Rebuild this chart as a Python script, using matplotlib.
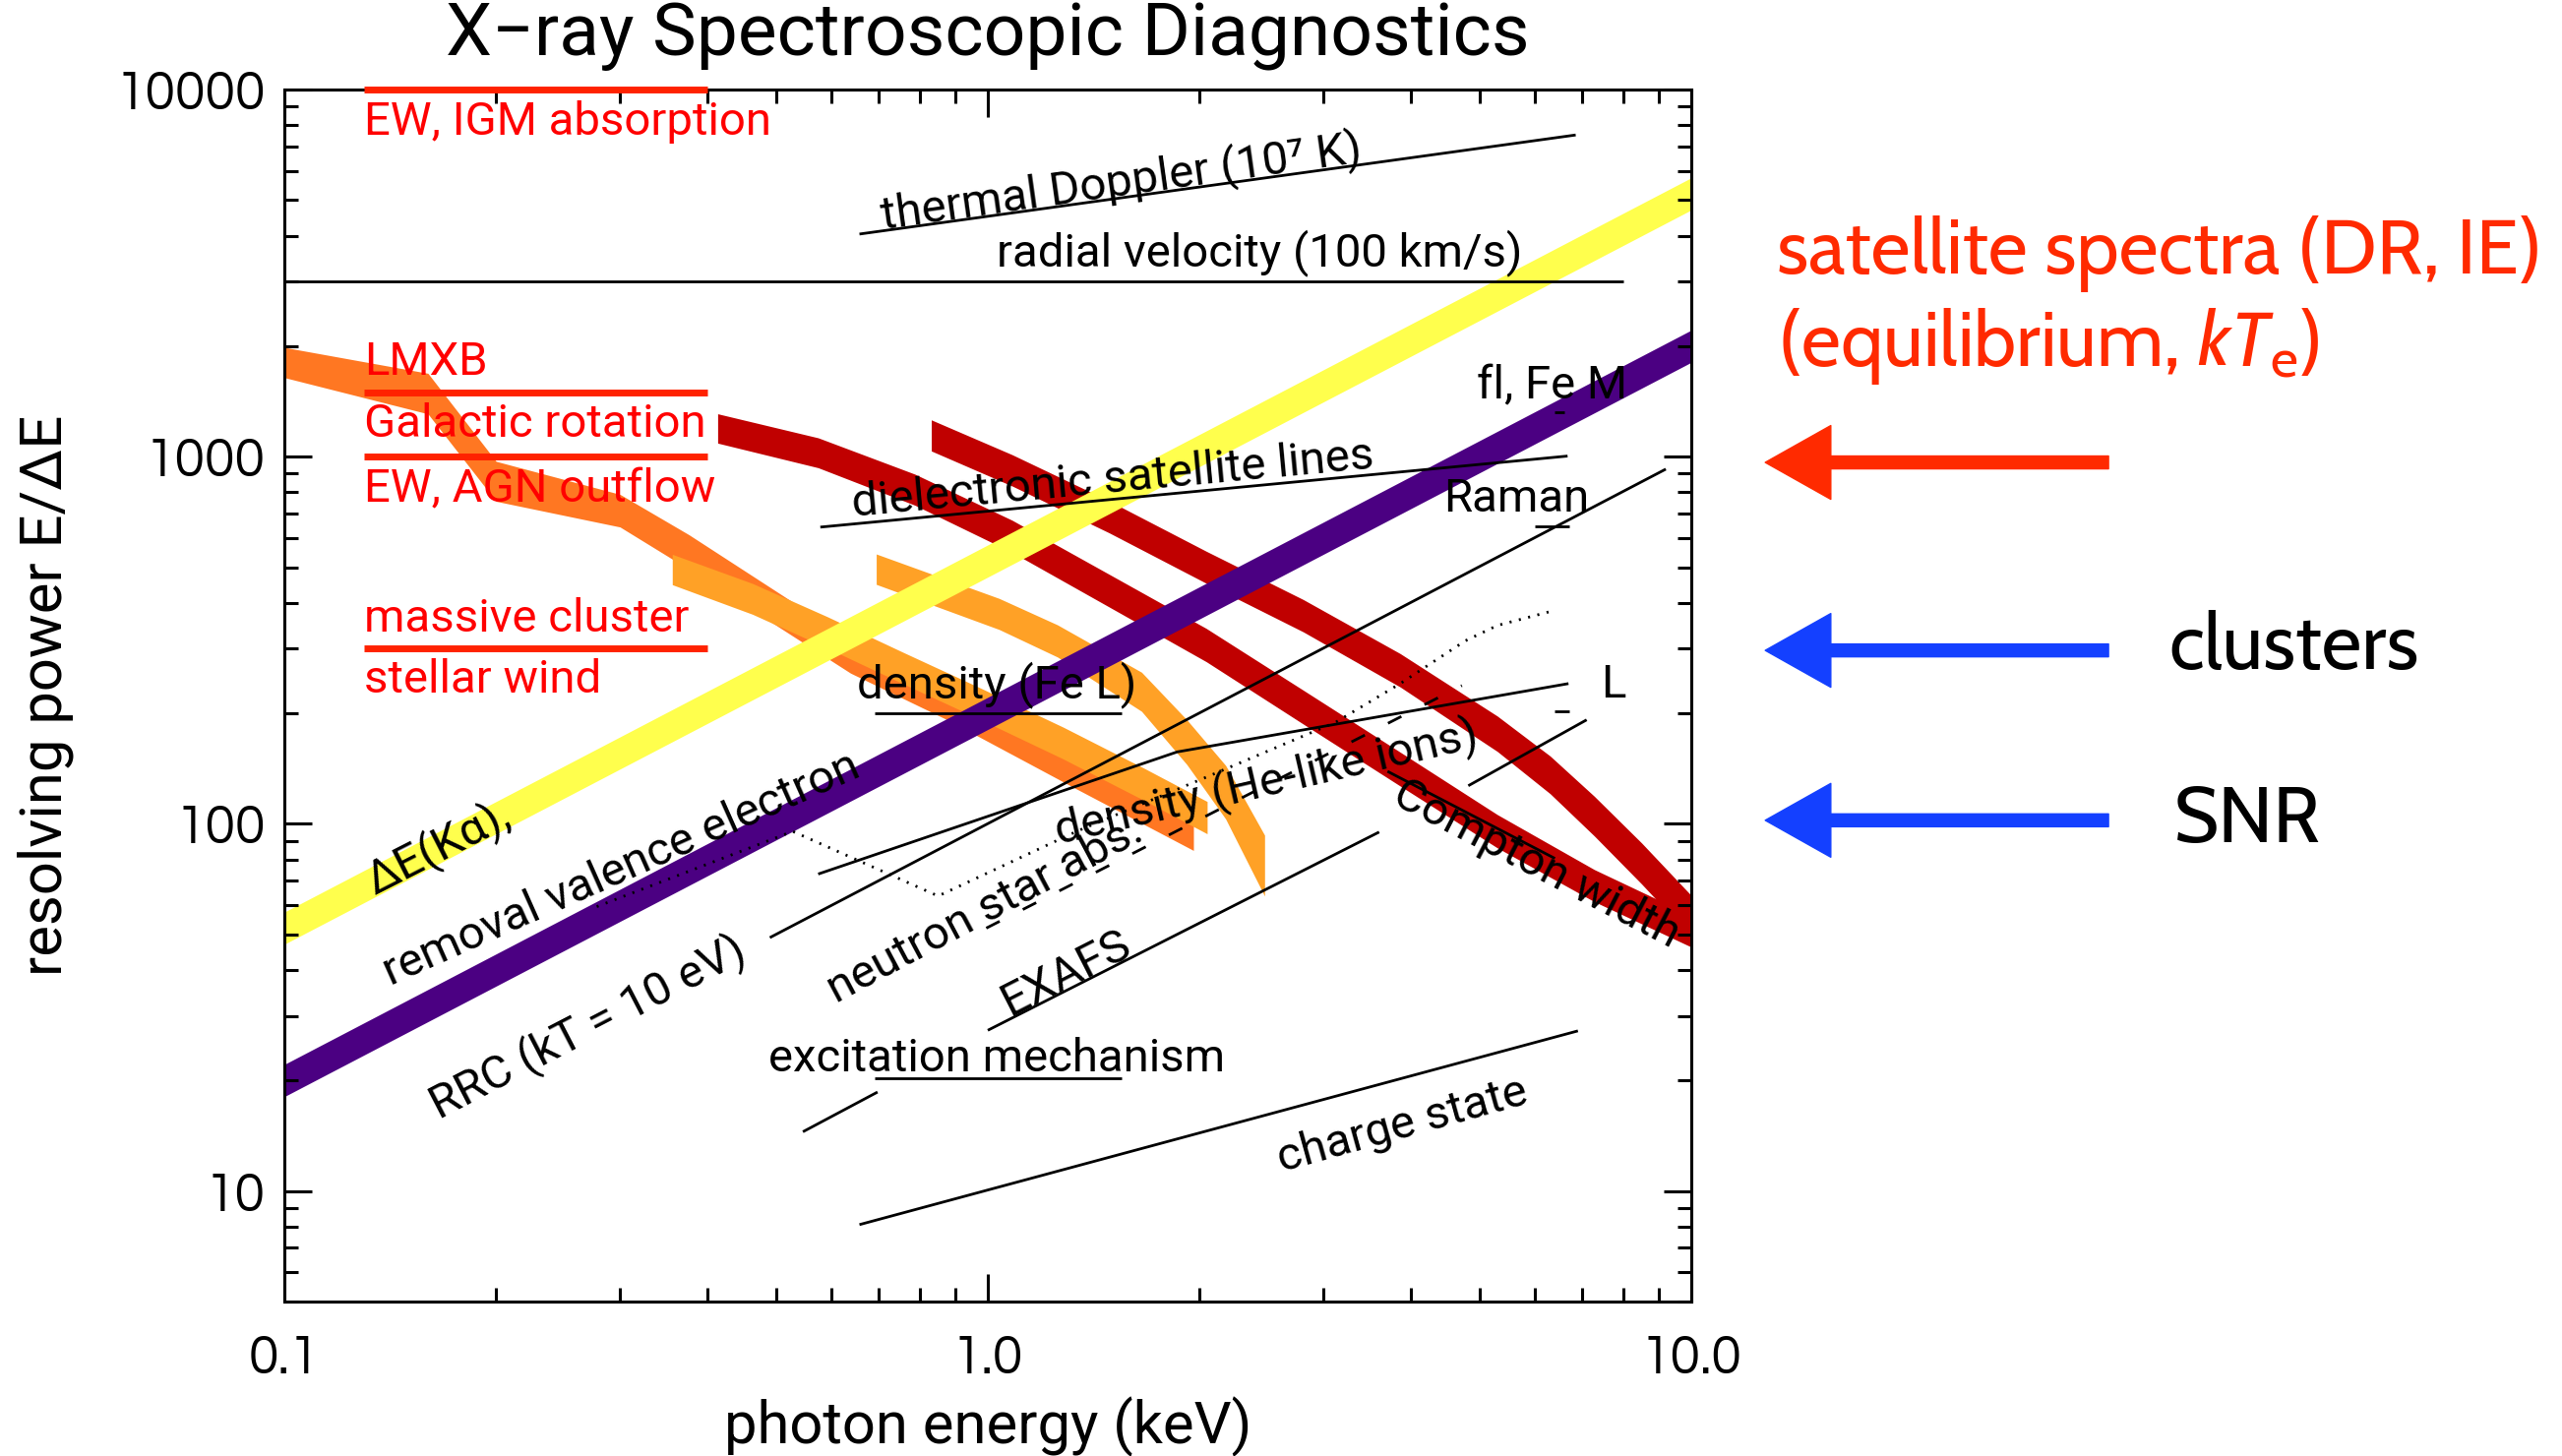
import numpy as np
import matplotlib
matplotlib.use("Agg")
import matplotlib.pyplot as plt
from matplotlib.ticker import FixedLocator, NullFormatter, LogLocator

plt.rcParams['lines.scale_dashes'] = False
plt.rcParams['mathtext.fontset'] = 'custom'
plt.rcParams['mathtext.rm'] = 'Cabin'
plt.rcParams['mathtext.it'] = 'Cabin:italic'

HERSHEY = ['Roboto', 'Lato', 'DejaVu Sans']
TICKF = ['Questrial', 'Didact Gothic', 'Montserrat', 'DejaVu Sans']
GILL = ['Gill Sans', 'Gill Sans MT', 'Cabin', 'Lato', 'DejaVu Sans']

# ---------------- data ----------------
xticks = [0.1, 1.0, 10.0]
xticklabels = ['0.1', '1.0', '10.0']
yticks = [10, 100, 1000, 10000]
yticklabels = ['10', '100', '1000', '10000']

# thick bands (photon energy keV, resolving power)
yellow_E = [0.1, 10.0]
yellow_R = [52, 5200]
purple_E = [0.1, 10.0]
purple_R = [20, 2000]
redA_E = [0.413, 0.574, 0.788, 1.083, 1.487, 2.044, 2.808, 3.857, 5.30, 7.28, 10.0]
redA_R = [1194, 1025, 813, 607, 432, 307, 208, 141, 95.5, 67.9, 51]
redB_E = [0.831, 1.083, 1.487, 2.044, 2.808, 3.857, 5.30, 6.3, 7.28, 8.5, 10.0]
redB_R = [1143, 918, 686, 500, 369, 262, 176, 136, 105, 78, 56]
dorange_E = [0.1, 0.16, 0.2, 0.3, 0.376, 0.638, 0.876, 1.339, 1.96]
dorange_R = [1806, 1486, 857, 713, 550, 286, 213, 138, 94]
lorange1_E = [0.356, 0.463, 0.592, 0.757, 0.968, 1.28, 1.67, 2.05]
lorange1_R = [493, 410, 332, 266, 214, 166, 128, 104]
lorange2_E = [0.694, 1.038, 1.256, 1.654, 1.918, 2.178, 2.474]
lorange2_R = [494, 373, 315, 229, 167, 122, 77]

# thin black lines
radial_E, radial_R = [0.1, 8.0], [3000, 3000]
thermal_E, thermal_R = [0.657, 6.85], [4040, 7520]
dielec_E, dielec_R = [0.578, 6.67], [643, 1004]
rrc_E, rrc_R = [0.49, 9.2], [49, 925]
lline_E, lline_R = [0.574, 1.858, 6.69], [73, 157, 241]
exafs1_E, exafs1_R = [0.546, 0.697], [14.5, 18.6]
exafs2_E, exafs2_R = [1.0, 3.6], [27.4, 95]
charge_E, charge_R = [0.657, 6.9], [8.1, 27.3]
feL_E, feL_R = [0.69, 1.55], [200, 200]
excit_E, excit_R = [0.69, 1.55], [20.3, 20.3]
compseg_E, compseg_R = [3.7, 6.4], [139, 80.5]
seg2_E, seg2_R = [4.82, 7.1], [127, 192]
dotted_E = [0.278, 0.528, 0.85, 1.339, 2.044, 3.12, 3.857, 4.77, 5.30, 6.28]
dotted_R = [59.5, 95.4, 63.6, 95.5, 134, 189, 241, 315, 347, 378]
nstar_E, nstar_R = [0.995, 4.72], [52, 238]
mark_Elo = [6.4, 6.0, 6.4]
mark_Ehi = [6.6, 6.7, 6.7]
mark_R = [1320, 648, 202]

# red reference lines / labels
ref_E = [0.13, 0.40]
ref_R = [10000, 1500, 1000, 300]
red_labels = ['EW, IGM absorption', 'LMXB', 'Galactic rotation',
              'EW, AGN outflow', 'massive cluster', 'stellar wind']
red_label_R = [8150, 1814, 1229, 817, 361, 247]

# black labels: text, E, R, rotation
black_labels = [
    ('thermal Doppler (10\u2077 K)', 1.546, 5583, 8.0),
    ('radial velocity (100 km/s)', 2.437, 3596, 0),
    ('dielectronic satellite lines', 1.505, 869, 5.3),
    ('fl, Fe M', 6.35, 1555, 0),
    ('Raman', 5.64, 768, 0),
    ('L', 7.74, 239, 0),
    ('density (Fe L)', 1.03, 239, 0),
    ('\u0394E(K\u03b1),', 0.1654, 86, 27),
    ('removal valence electron', 0.301, 75.4, 24),
    ('RRC (kT = 10 eV)', 0.270, 28, 27.4),
    ('neutron star abs.', 0.992, 58.4, 28),
    ('EXAFS', 1.289, 39.2, 27),
    ('density (He-like ions)', 2.49, 129.7, 13),
    ('excitation mechanism', 1.03, 23.0, 0),
    ('charge state', 3.88, 15.1, 15.5),
    ('Compton width', 6.02, 77.8, -27.4),
]

# ---------------- figure ----------------
fig = plt.figure(figsize=(26.04, 14.80), dpi=100)
ax = fig.add_axes([0.11098, 0.10608, 0.54916, 0.83243])
ax.set_xscale('log')
ax.set_yscale('log')
ax.set_xlim(0.1, 10)
ax.set_ylim(5, 10000)

for s in ax.spines.values():
    s.set_linewidth(2.2)
    s.set_zorder(6)

ax.xaxis.set_major_locator(FixedLocator(xticks))
ax.yaxis.set_major_locator(FixedLocator(yticks))
ax.xaxis.set_minor_locator(LogLocator(base=10, subs=np.arange(2, 10)))
ax.yaxis.set_minor_locator(LogLocator(base=10, subs=np.arange(2, 10)))
ax.xaxis.set_minor_formatter(NullFormatter())
ax.yaxis.set_minor_formatter(NullFormatter())
ax.set_xticklabels(xticklabels, family=TICKF, fontsize=40)
ax.set_yticklabels(yticklabels, family=TICKF, fontsize=40)
ax.tick_params(which='both', direction='in', top=True, right=True, width=2.2)
ax.tick_params(which='major', length=20)
ax.tick_params(which='minor', length=10)
ax.tick_params(axis='x', which='major', pad=24)
ax.tick_params(axis='y', which='major', pad=14)

ax.set_xlabel('photon energy (keV)', family=HERSHEY, fontsize=43)
ax.xaxis.set_label_coords(0.5, -0.103)
ax.xaxis.label.set_va('center')
ax.set_ylabel('resolving power E/\u0394E', family=HERSHEY, fontsize=43)
ax.yaxis.set_label_coords(-0.17, 0.5)
ax.yaxis.label.set_va('center')

fig.text(0.3856, 0.975, 'X\u2212ray Spectroscopic Diagnostics', family=HERSHEY,
         fontsize=54, ha='center', va='center')


def band(E, R, width_px, color, z):
    E = np.asarray(E, float)
    R = np.asarray(R, float)
    pts = ax.transData.transform(np.column_stack([E, R]))
    slope = np.gradient(pts[:, 1], pts[:, 0])
    h = 0.5 * width_px * np.sqrt(1 + slope ** 2)
    inv = ax.transData.inverted()
    up = inv.transform(np.column_stack([pts[:, 0], pts[:, 1] + h]))[:, 1]
    lo = inv.transform(np.column_stack([pts[:, 0], pts[:, 1] - h]))[:, 1]
    ax.fill_between(E, lo, up, color=color, lw=0, zorder=z)


band(dorange_E, dorange_R, 30, '#FF7722', 1)
band(lorange1_E, lorange1_R, 29, '#FFA126', 1.1)
band(lorange2_E, lorange2_R, 29, '#FFA126', 1.1)
band(redA_E, redA_R, 29, '#C00000', 1.2)
band(redB_E, redB_R, 29, '#C00000', 1.2)
band(yellow_E, yellow_R, 29, '#FFFF4D', 1.3)
band(purple_E, purple_R, 29, '#4B0082', 1.4)

lk = dict(color='black', lw=2.0, zorder=3, solid_capstyle='butt')
for E, R in [(radial_E, radial_R), (thermal_E, thermal_R), (dielec_E, dielec_R),
             (rrc_E, rrc_R), (lline_E, lline_R), (exafs1_E, exafs1_R),
             (exafs2_E, exafs2_R), (charge_E, charge_R), (feL_E, feL_R),
             (excit_E, excit_R), (compseg_E, compseg_R), (seg2_E, seg2_R)]:
    ax.plot(E, R, **lk)
ax.plot(dotted_E, dotted_R, color='black', lw=2.0, ls=(0, (1.5, 5.5)), zorder=3)
ax.plot(nstar_E, nstar_R, color='black', lw=2.0, ls=(0, (11, 19)), zorder=3)
for lo_, hi_, r in zip(mark_Elo, mark_Ehi, mark_R):
    ax.plot([lo_, hi_], [r, r], **lk)

for r in ref_R:
    ax.plot(ref_E, [r, r], color='#FF2200', lw=5, solid_capstyle='butt',
            zorder=7, clip_on=False)
for t, r in zip(red_labels, red_label_R):
    ax.text(0.13, r, t, color='#FF0000', family=HERSHEY, fontsize=34,
            ha='left', va='center', zorder=8)

for t, e, r, rot in black_labels:
    ax.text(e, r, t, color='black', family=HERSHEY, fontsize=34,
            ha='center', va='center', rotation=rot, rotation_mode='anchor', zorder=8)

# right-hand annotations
fig.text(0.6934, 0.826, 'satellite spectra (DR, IE)', color='#FF2A00', family=GILL,
         fontsize=56, ha='left', va='center')
fig.text(0.6934, 0.762, r'(equilibrium, $kT_{\rm e}$)', color='#FF2A00', family=GILL,
         fontsize=56, ha='left', va='center')
fig.text(0.8465, 0.5545, 'clusters', color='black', family=GILL, fontsize=57,
         ha='left', va='center')
fig.text(0.8484, 0.4358, 'SNR', color='black', family=GILL, fontsize=57,
         ha='left', va='center')

arrow_y = [0.6824, 0.5533, 0.4366]
arrow_c = ['#FF2A00', '#1440FF', '#1440FF']
for yy, cc in zip(arrow_y, arrow_c):
    ax.annotate('', xy=(0.689, yy), xycoords='figure fraction',
                xytext=(0.823, yy), textcoords='figure fraction',
                arrowprops=dict(width=9.4, headwidth=54, headlength=48,
                                color=cc, shrink=0),
                annotation_clip=False)

fig.savefig('out.png', dpi=100)
